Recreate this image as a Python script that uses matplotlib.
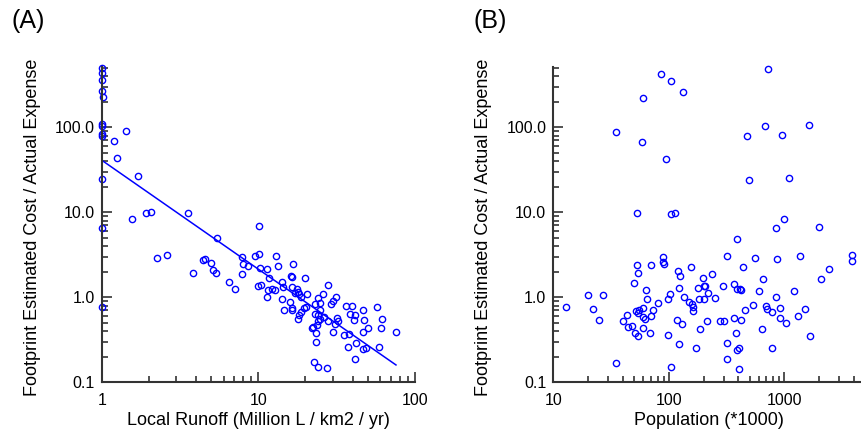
import matplotlib
matplotlib.use('Agg')
import matplotlib.pyplot as plt
from matplotlib.ticker import LogLocator, NullFormatter

plt.rcParams['font.family'] = ['Liberation Sans', 'DejaVu Sans']

# panel A: local runoff vs cost ratio
runoff = [1, 1, 1, 1, 1.02, 1, 1, 1, 1, 1, 1, 1,
          1.44, 1.20, 1.25, 1.70, 1.92, 2.07, 1.55, 3.56, 5.42, 10.1,
          2.26, 2.60, 3.85, 4.45, 4.57, 4.99, 5.1, 5.37, 6.53, 7.1, 7.83, 7.95, 8.55, 7.83,
          9.5, 10.1, 10.3, 10.0, 10.4, 11.4, 11.7, 11.3, 11.6, 12.3, 12.8, 13.0, 13.4,
          14.1, 14.4, 14.1, 14.6, 15.9, 16.3, 16.5, 16.1, 16.5, 16.7, 16.5,
          17.2, 17.6, 18.0, 18.3, 18.7, 19.9, 20.5, 18.7, 18.3, 17.8, 19.6, 20.2,
          23.0, 24.1, 24.7, 26.0, 27.7, 31.3, 30.1, 29.2, 23.0, 24.1, 24.7, 26.2,
          24.7, 24.1, 23.6, 22.3, 21.9, 27.9, 31.6, 32.1, 30.8, 23.3, 23.3, 29.8,
          36.3, 39.9, 38.4, 41.4, 40.8, 46.9, 47.4, 57.0, 61.3, 60.4, 50.5, 46.4, 75.7,
          35.2, 38.2, 37.2, 42.1, 46.9, 48.7, 59.3, 41.4, 22.8, 24.1, 27.5]
ratio_a = [494, 439, 360, 267, 229, 109, 103, 83, 80, 24.6, 6.6, 0.76,
           91, 69, 43.5, 26.5, 9.8, 10.1, 8.4, 9.9, 5.0, 6.96,
           2.92, 3.15, 1.92, 2.75, 2.8, 2.55, 2.1, 1.95, 1.53, 1.24, 3.0, 2.44, 2.33, 1.88,
           3.09, 3.23, 2.23, 1.37, 1.40, 2.15, 1.67, 1.0, 1.22, 1.25, 1.22, 3.06, 2.33,
           1.50, 1.31, 0.95, 0.71, 0.87, 0.71, 0.74, 1.78, 1.72, 2.44, 1.33,
           1.13, 1.24, 1.16, 1.08, 1.02, 1.70, 1.09, 0.68, 0.62, 0.56, 0.74, 0.76,
           0.83, 0.97, 0.85, 1.09, 1.40, 1.02, 0.91, 0.83, 0.64, 0.62, 0.71, 0.58,
           0.55, 0.52, 0.47, 0.45, 0.43, 0.53, 0.57, 0.53, 0.49, 0.38, 0.30, 0.39,
           0.78, 0.78, 0.63, 0.62, 0.54, 0.71, 0.54, 0.76, 0.56, 0.44, 0.44, 0.39, 0.39,
           0.36, 0.37, 0.26, 0.29, 0.247, 0.255, 0.26, 0.188, 0.175, 0.153, 0.148]

# fitted line ends (panel A)
fit_x = [1.0, 75.7]
fit_y = [41.0, 0.16]

# panel B: population vs cost ratio
population = [85.1, 105, 132, 60.1, 723, 34.9, 58.6, 94, 479, 681, 948, 1644, 497, 1105,
              52.7, 104, 113, 1000, 842, 1997, 392,
              12.9, 19.9, 21.9, 26.8, 25.0, 34.9, 39.9, 43.2, 44.6, 47.8, 50.0, 52.7, 54.5,
              52.0, 53.8, 55.3, 51.3, 54.5, 59.4, 60.0, 62.2, 60.0, 63.1, 64.5, 70.2,
              70.2, 68.6, 72.6, 81.1, 88.5, 89.5, 90.8, 97.7, 97.7, 102, 105, 119, 125,
              122, 117, 123, 129, 135, 150, 158, 161, 161, 156, 171, 180, 184, 186,
              199, 203, 206, 202, 217, 215, 238, 251, 277, 300, 297, 317, 317, 317,
              369, 369, 387, 413, 419, 382, 387, 404, 404, 425, 441, 454, 532, 561,
              608, 637, 658, 690, 705, 787, 787, 843, 870, 918, 918, 1028, 1213, 1322,
              1366, 1511, 1670, 2065, 2438, 3880, 3880]
ratio_b = [424, 348, 258, 223, 481, 88, 67, 42.4, 78, 103, 80.5, 106, 24.2, 25.5,
           9.8, 9.5, 9.7, 8.3, 6.5, 6.8, 4.9,
           0.76, 1.06, 0.73, 1.07, 0.54, 0.17, 0.53, 0.62, 0.45, 0.46, 1.49, 2.40, 1.92,
           0.69, 0.65, 0.71, 0.38, 0.35, 0.74, 0.59, 0.55, 0.43, 1.22, 0.95, 2.40,
           0.60, 0.38, 0.71, 0.85, 2.95, 2.62, 2.47, 0.95, 0.36, 1.09, 0.15, 2.06, 1.80,
           1.28, 0.54, 0.28, 0.49, 1.0, 0.89, 0.83, 0.76, 0.69, 2.27, 0.25, 1.28, 0.95, 0.42,
           1.67, 1.36, 1.36, 0.95, 1.11, 0.52, 1.88, 0.97, 0.53, 0.53, 1.36, 3.03, 0.29, 0.19,
           1.44, 0.57, 1.24, 1.24, 1.22, 0.38, 0.24, 0.25, 0.145, 0.54, 2.25, 0.70, 0.82, 2.92,
           1.19, 0.42, 1.63, 0.80, 0.73, 0.67, 0.25, 1.0, 2.82, 0.75, 0.57, 0.50, 1.19, 0.60,
           3.06, 0.73, 0.35, 1.64, 2.13, 3.14, 2.69]

y_ticks = [0.1, 1, 10, 100]
y_tick_labels = ['0.1', '1.0', '10.0', '100.0']
ylab = 'Footprint Estimated Cost / Actual Expense'

W, H = 862, 436
fig = plt.figure(figsize=(W / 100, H / 100), dpi=100)

axc = '#333333'
blue = '#0000ff'


def style(ax):
    ax.set_xscale('log')
    ax.set_yscale('log')
    for s in ['top', 'right']:
        ax.spines[s].set_visible(False)
    for s in ['left', 'bottom']:
        ax.spines[s].set_color(axc)
        ax.spines[s].set_linewidth(1.5)
    ax.set_yticks(y_ticks)
    ax.set_yticklabels(y_tick_labels)
    ax.yaxis.set_minor_locator(LogLocator(subs=range(2, 10)))
    ax.yaxis.set_minor_formatter(NullFormatter())
    ax.xaxis.set_minor_locator(LogLocator(subs=range(2, 10)))
    ax.xaxis.set_minor_formatter(NullFormatter())
    ax.tick_params(which='both', direction='in', color=axc, width=1.2, labelsize=11.5)
    ax.tick_params(which='major', length=7)
    ax.tick_params(which='minor', length=4)
    ax.tick_params(axis='y', which='major', pad=5)
    ax.tick_params(axis='x', which='major', pad=8)
    ax.set_ylim(0.1, 516)


# left panel
ax1 = fig.add_axes([101.7 / W, (H - 382.3) / H, 313.2 / W, 315.6 / H])
style(ax1)
ax1.plot(runoff, ratio_a, 'o', mfc='none', mec=blue, ms=4.5, mew=1.0, clip_on=False)
ax1.plot(fit_x, fit_y, '-', color=blue, lw=1.1)
ax1.set_xlim(1, 100)
ax1.set_xticks([1, 10, 100])
ax1.set_xticklabels(['1', '10', '100'])
ax1.set_xlabel('Local Runoff (Million L / km2 / yr)', fontsize=13)
ax1.set_ylabel(ylab, fontsize=13)
ax1.xaxis.set_label_coords(0.5, -0.093)
ax1.yaxis.set_label_coords(-61.0 / 313.2, 0.49)

# right panel
ax2 = fig.add_axes([553.3 / W, (H - 382.3) / H, 311.7 / W, 315.6 / H])
style(ax2)
ax2.plot(population, ratio_b, 'o', mfc='none', mec=blue, ms=4.5, mew=1.0, clip_on=False)
ax2.set_xlim(10, 5000)
ax2.set_xticks([10, 100, 1000])
ax2.set_xticklabels(['10', '100', '1000'])
ax2.set_xlabel('Population (*1000)', fontsize=13)
ax2.set_ylabel(ylab, fontsize=13)
ax2.xaxis.set_label_coords(0.5, -0.093)
ax2.yaxis.set_label_coords(-61.0 / 311.7, 0.49)

fig.text(28 / W, 1 - 21 / H, '(A)', fontsize=18, ha='center', va='center')
fig.text(490 / W, 1 - 21 / H, '(B)', fontsize=18, ha='center', va='center')

fig.savefig('out.png', dpi=100)
